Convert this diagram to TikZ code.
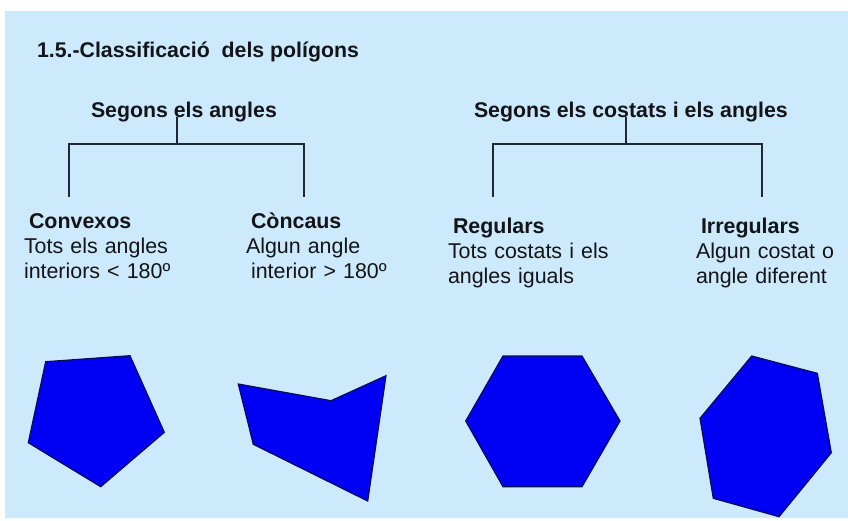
\documentclass[tikz,border=0pt]{standalone}
\usepackage{fontspec}
\setmainfont{Liberation Sans}
\begin{document}
\begin{tikzpicture}[x=1pt,y=-1pt,
  every node/.style={inner sep=0pt,outer sep=0pt,text=txtc,font=\fontsize{21.4}{25}\selectfont},
  hdr/.style={anchor=base west,font=\fontsize{21.3}{25}\selectfont\bfseries},
  blk/.style={anchor=base west,text width=190pt,align=left},
  brk/.style={draw=brkc,line width=1.8pt},
  poly/.style={fill=polyc,draw=polyedge,line width=1.2pt,line join=miter}]
\definecolor{bgc}{RGB}{204,234,252}
\definecolor{txtc}{RGB}{20,20,24}
\definecolor{brkc}{RGB}{30,40,52}
\definecolor{polyc}{RGB}{0,0,245}
\definecolor{polyedge}{RGB}{10,10,90}
\useasboundingbox (0,0) rectangle (848,520);
\fill[bgc] (5,11) rectangle (848,518);

\node[hdr] (title) at (37,57.5) {1.5.-Classificació\ \ dels polígons};

\node[hdr] (h1) at (91,117) {Segons els angles};
\node[hdr] (h2) at (474,117) {Segons els costats i els angles};

\node[blk] (convex) at (24,228) {\hspace*{5pt}\textbf{Convexos}\\Tots els angles\\interiors < 180º};
\node[blk] (concav) at (246,228) {\hspace*{5pt}\textbf{Còncaus}\\Algun angle\\\hspace*{5pt}interior > 180º};
\node[blk] (regul) at (448,233) {\hspace*{5pt}\textbf{Regulars}\\Tots costats i els\\angles iguals};
\node[blk] (irreg) at (696,233) {\hspace*{5pt}\textbf{Irregulars}\\Algun costat o\\angle diferent};

% bracket 1
\coordinate (s1) at (177,117);
\coordinate (j1) at (177,144);
\coordinate (c1) at (69,197);
\coordinate (c2) at (304,197);
\draw[brk] (s1) -- (j1);
\draw[brk] (c1) |- (j1) -| (c2);
% bracket 2
\coordinate (s2) at (626,117);
\coordinate (j2) at (626,144);
\coordinate (c3) at (493,197);
\coordinate (c4) at (762,197);
\draw[brk] (s2) -- (j2);
\draw[brk] (c3) |- (j2) -| (c4);

% polygons
\draw[poly] (45.7,361.7) -- (130,355.7) -- (164.3,432.3) -- (100.7,486.7) -- (28.3,442.7) -- cycle;
\draw[poly] (238.3,384) -- (331,400.7) -- (386,375.7) -- (367.7,501) -- (253.3,444.3) -- cycle;
\draw[poly] (503,356) -- (582,356) -- (620,421) -- (582,486.7) -- (503,486.7) -- (465.7,421) -- cycle;
\draw[poly] (751.7,356) -- (817.3,373.3) -- (831.3,452.7) -- (779,516.7) -- (713.3,498.3) -- (700,418.3) -- cycle;
\end{tikzpicture}
\end{document}
